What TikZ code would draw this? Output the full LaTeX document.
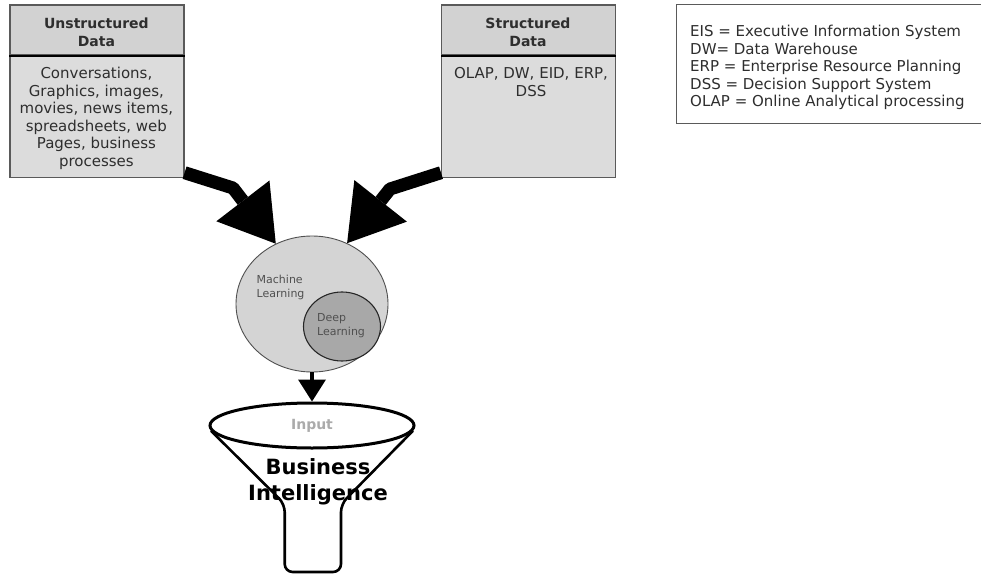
\documentclass[tikz,border=0pt]{standalone}
\usepackage{fontspec}
\setmainfont{DejaVu Sans}
\usetikzlibrary{arrows.meta,shapes.geometric,calc}

\definecolor{hdrgray}{HTML}{D2D2D2}
\definecolor{bodygray}{HTML}{DCDCDC}
\definecolor{edgegray}{HTML}{5A5A5A}
\definecolor{mlgray}{HTML}{D4D4D4}
\definecolor{dlgray}{HTML}{A8A8A8}
\definecolor{inkgray}{HTML}{2E2E2E}
\definecolor{softgray}{HTML}{505050}
\definecolor{inputgray}{HTML}{ABABAB}

\begin{document}
\begin{tikzpicture}[x=1pt,y=-1pt,
  hdrbox/.style={draw=edgegray,line width=1.2pt,fill=hdrgray,anchor=north west,
    inner sep=0pt,minimum width=174pt,minimum height=50pt},
  bodybox/.style={draw=edgegray,line width=1.2pt,fill=bodygray,anchor=north west,
    inner sep=0pt,minimum width=174pt,minimum height=122pt},
  divider/.style={line width=2pt,black},
  hdrtext/.style={font=\fontsize{14}{17.5}\selectfont\bfseries,text=inkgray,
    align=center,inner sep=0pt},
  bodytext/.style={font=\fontsize{15}{17.5}\selectfont,text=inkgray,
    align=center,inner sep=0pt},
  legendbox/.style={draw=edgegray,line width=0.9pt,fill=white,anchor=north west,
    inner sep=0pt,minimum width=310pt,minimum height=118pt},
  legendtext/.style={font=\fontsize{15}{17.5}\selectfont,text=inkgray,
    align=left,inner sep=0pt,anchor=north west},
  bigarrow/.style={line width=13pt,line join=round,
    -{Triangle[length=54pt,width=67pt,line width=0pt]}},
  smallarrow/.style={line width=3.5pt,
    -{Triangle[length=22pt,width=28pt,line width=0pt]}},
  mlcircle/.style={ellipse,draw=softgray,line width=0.9pt,fill=mlgray,
    inner sep=0pt,minimum width=152pt,minimum height=136pt},
  dlcircle/.style={ellipse,draw=black!85,line width=1.1pt,fill=dlgray,
    inner sep=0pt,minimum width=77pt,minimum height=69pt},
  circletext/.style={font=\fontsize{11}{14}\selectfont,text=softgray,
    align=left,inner sep=0pt,anchor=west},
  funneltop/.style={ellipse,draw=black,line width=3pt,fill=white,inner sep=0pt,
    minimum width=204pt,minimum height=45pt,
    font=\fontsize{14}{16}\selectfont\bfseries,text=inputgray},
  funnelline/.style={line width=2.6pt,black,rounded corners=8pt},
  bitext/.style={font=\fontsize{21}{25.5}\selectfont\bfseries,text=black,
    align=center,inner sep=0pt}
]
\useasboundingbox (0,0) rectangle (981,575);

% unstructured data box
\node[bodybox] (ub) at (9.4,54.5) {};
\node[hdrbox]  (uh) at (9.4,4.5) {};
\draw[divider] (uh.south west) -- (uh.south east);
\node[hdrtext]  (uht) at (96.4,32.3) {Unstructured\\Data};
\node[bodytext] (ubt) at (96.4,118.5) {Conversations,\\Graphics, images,\\movies, news items,\\spreadsheets, web\\Pages, business\\processes};

% structured data box
\node[bodybox] (sb) at (441,54.5) {};
\node[hdrbox]  (sh) at (441,4.5) {};
\draw[divider] (sh.south west) -- (sh.south east);
\node[hdrtext]  (sht) at (528,32.3) {Structured\\Data};
\node[bodytext] (sbt) at (531,82) {OLAP, DW, EID, ERP,\\DSS};

% abbreviations
\node[legendbox] (leg) at (676,4.5) {};
\node[legendtext] (legt) at (690,25) {EIS = Executive Information System\\DW= Data Warehouse\\ERP = Enterprise Resource Planning\\DSS = Decision Support System\\OLAP = Online Analytical processing};

% machine learning / deep learning
\node[mlcircle] (ml) at (312,304) {};
\node[dlcircle] (dl) at (342,326.5) {};
\node[circletext] (mlt) at (256.5,287.5) {Machine\\Learning};
\node[circletext] (dlt) at (317,326) {Deep\\Learning};

% big input arrows
\coordinate (lbend) at (233,188);
\coordinate (rbend) at (390,189);
\draw[bigarrow] ($(ub.south east)+(0,-5)$) -- (lbend) -- (ml.121);
\draw[bigarrow] ($(sb.south west)+(0,-5)$) -- (rbend) -- (ml.60);

% funnel
\node[funneltop] (fun) at (312,425.5) {Input};
\draw[funnelline] (fun.183) -- (284.7,504) -- (284.7,572) -- (341,572) -- (341,504) -- (fun.357);
\draw[smallarrow] (ml.south) -- (fun.north);
\node[bitext] (bi) at (318,481.8) {Business\\Intelligence};
\end{tikzpicture}
\end{document}
